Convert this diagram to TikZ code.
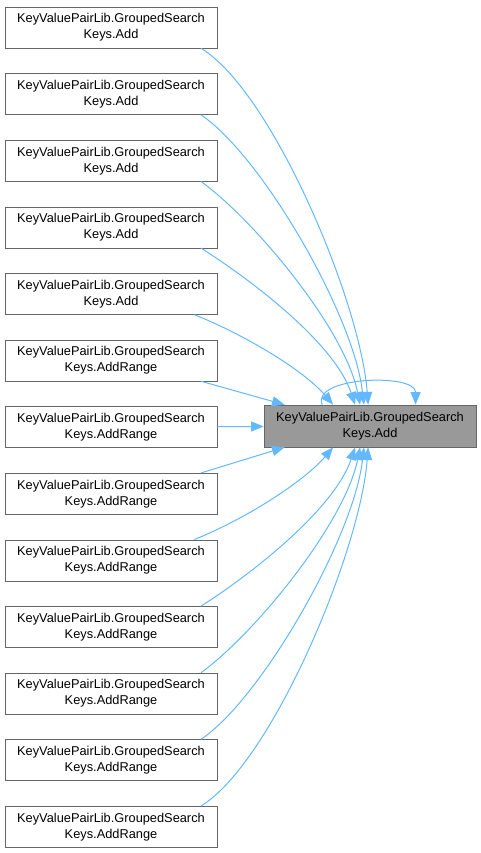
\documentclass[tikz,border=0pt]{standalone}
\usepackage{fontspec}
\setmainfont{Liberation Sans}
\usetikzlibrary{arrows.meta}
\definecolor{edgeblue}{HTML}{63B8FF}
\definecolor{boxgray}{HTML}{666666}
\definecolor{selgray}{HTML}{999999}

\begin{document}
\begin{tikzpicture}[x=0.75pt,y=-0.75pt,
  every node/.style={font=\fontsize{9.6}{12}\selectfont},
  fn/.style={draw=boxgray,fill=white,minimum width=159pt,minimum height=30.75pt,align=center,inner sep=1pt},
  call/.style={draw=edgeblue,line width=.75pt,-{Triangle[length=9.5pt,width=7.5pt]}}]
  \useasboundingbox (0,0) rectangle (481,853);
  \node[fn] (A0) at (111,27.5) {KeyValuePairLib.GroupedSearch\\Keys.Add};
  \node[fn] (A1) at (111,94.1) {KeyValuePairLib.GroupedSearch\\Keys.Add};
  \node[fn] (A2) at (111,160.7) {KeyValuePairLib.GroupedSearch\\Keys.Add};
  \node[fn] (A3) at (111,227.3) {KeyValuePairLib.GroupedSearch\\Keys.Add};
  \node[fn] (A4) at (111,293.9) {KeyValuePairLib.GroupedSearch\\Keys.Add};
  \node[fn] (R5) at (111,360.5) {KeyValuePairLib.GroupedSearch\\Keys.AddRange};
  \node[fn] (R6) at (111,427.1) {KeyValuePairLib.GroupedSearch\\Keys.AddRange};
  \node[fn] (R7) at (111,493.7) {KeyValuePairLib.GroupedSearch\\Keys.AddRange};
  \node[fn] (R8) at (111,560.3) {KeyValuePairLib.GroupedSearch\\Keys.AddRange};
  \node[fn] (R9) at (111,626.9) {KeyValuePairLib.GroupedSearch\\Keys.AddRange};
  \node[fn] (R10) at (111,693.5) {KeyValuePairLib.GroupedSearch\\Keys.AddRange};
  \node[fn] (R11) at (111,760.1) {KeyValuePairLib.GroupedSearch\\Keys.AddRange};
  \node[fn] (R12) at (111,826.7) {KeyValuePairLib.GroupedSearch\\Keys.AddRange};
  \node[fn,fill=selgray,minimum height=31.5pt] (Add) at (370,426) {KeyValuePairLib.GroupedSearch\\Keys.Add};
  % callers above
  \draw[call] (A0.-13) .. controls +(70,42) and +(-8,-105) .. (Add.95);
  \draw[call] (A1.-13) .. controls +(60,40) and +(-10,-90) .. (Add.106);
  \draw[call] (A2.-13) .. controls +(55,40) and +(-15,-75) .. (Add.115);
  \draw[call] (A3.-13) .. controls +(55,35) and +(-20,-60) .. (Add.125);
  \draw[call] (A4.-14.5) .. controls +(50,20) and +(-30,-35) .. (Add.150);
  \draw[call] (R5.-13.4) -- (Add.166);
  \draw[call] (R6) -- (Add);
  % callers below
  \draw[call] (R7.13.4) -- (Add.-166);
  \draw[call] (R8.14.5) .. controls +(50,-20) and +(-30,35) .. (Add.-150);
  \draw[call] (R9.13) .. controls +(55,-35) and +(-20,60) .. (Add.-125);
  \draw[call] (R10.13) .. controls +(55,-40) and +(-15,75) .. (Add.-115);
  \draw[call] (R11.13) .. controls +(60,-40) and +(-10,90) .. (Add.-106);
  \draw[call] (R12.13) .. controls +(70,-42) and +(-8,105) .. (Add.-95);
  % recursive call
  \draw[call] (Add.156) .. controls +(-12,-28) and +(0,-32) .. (Add.25);
\end{tikzpicture}
\end{document}
